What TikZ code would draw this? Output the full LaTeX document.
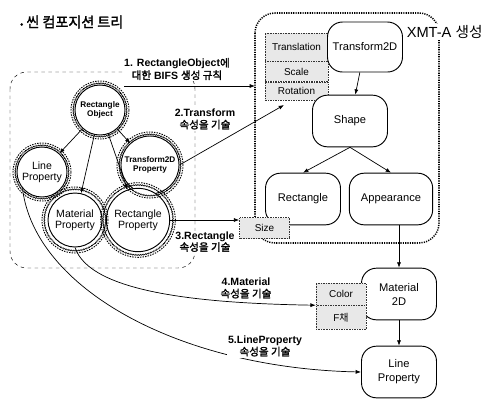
\documentclass[tikz,border=0pt]{standalone}
\usepackage{fontspec}
\setmainfont{Liberation Sans}
\newfontfamily\kr[AutoFakeBold=2]{Noto Sans CJK KR}
\usetikzlibrary{arrows.meta, positioning, calc, decorations.pathmorphing}
\tikzset{
    prop/.style={
        circle, draw, thick, fill=white, inner sep=0pt,
        align=center, font=\fontsize{9}{9.5}\selectfont
    },
    ring/.style={draw, line width=0.8pt, dash pattern=on 1.2pt off 1pt},
    wring/.style={draw, thin, decorate,
        decoration={zigzag, amplitude=0.5pt, segment length=1.5pt}},
    rbox/.style={
        rectangle, rounded corners=4.5mm,
        draw, thick, fill=white,
        minimum width=22.5mm, minimum height=15.5mm,
        font=\fontsize{9.5}{12}\selectfont, align=center
    },
    field/.style={
        rectangle, draw=black!80, densely dotted, fill=gray!18,
        minimum width=19mm, inner sep=0pt,
        font=\fontsize{8.5}{9}\selectfont
    },
    note/.style={fill=white, inner sep=1pt, align=center,
        font=\fontsize{9}{10.5}\selectfont\bfseries},
    arrow/.style={-{Latex[length=1.6mm, width=1.2mm]}, semithick},
    treepanel/.style={draw, dashed, rounded corners=5mm},
    xmtpanel/.style={draw, line width=1.3pt, dash pattern=on 1pt off 1pt, rounded corners=6mm}
}

\begin{document}
\begin{tikzpicture}[x=0.3mm, y=-0.3mm]
    \useasboundingbox (0,0) rectangle (491,401);

    % groups
    \draw[treepanel] (10,72) rectangle (195,268);
    \draw[xmtpanel] (255,13) rectangle (439,243);

    \node[anchor=west, font=\kr\bfseries\fontsize{12}{14}\selectfont] (title) at (16,22)
        {{\fontsize{8}{8}\selectfont •} 씬 컴포지션 트리};
    \node[anchor=west, fill=white, inner sep=1pt, font=\fontsize{12.5}{14}\selectfont] (xmt) at (398,32)
        {{\fontsize{8}{8}\selectfont •} XMT-A {\kr 생성}};

    % XMT-A side
    \node[field, minimum height=8.4mm] (tr) at (296.5,47) {Translation};
    \node[field, minimum height=6mm, below=0pt of tr] (sc) {Scale};
    \node[field, minimum height=5.4mm, below=0pt of sc] (rot) {Rotation};

    \node[rbox, minimum height=15mm] (t2d) at (365,47) {Transform2D};
    \node[rbox] (shape) at (350,121) {Shape};
    \node[rbox] (rect) at (303,199) {Rectangle};
    \node[rbox, minimum width=25mm] (app) at (391,199) {Appearance};
    \node[rbox] (mat2d) at (399,294) {Material\\2D};
    \node[rbox] (linebox) at (399,372) {Line\\Property};

    \node[field, minimum width=15mm, minimum height=6.3mm] (size) at (264.5,228) {Size};
    \node[field, minimum width=15mm, minimum height=6.6mm] (color) at (341,294) {Color};
    \node[field, minimum width=15mm, minimum height=7.2mm, below=0pt of color] (fillf) {F{\kr 채}};

    \draw[arrow] (t2d) -- (shape);
    \draw[arrow] (shape.south) -- (rect.north);
    \draw[arrow] (shape.south) -- (app.north);
    \draw[arrow] (app.south -| mat2d.north) -- (mat2d.north);
    \draw[arrow] (mat2d) -- (linebox);

    % scene composition tree
    \node[prop, minimum size=15mm, font=\fontsize{7}{7.5}\selectfont\bfseries] (robj) at (100,110) {Rectangle\\Object};
    \node[prop, minimum size=15mm] (linep) at (42,172) {Line\\Property};
    \node[prop, minimum size=17.4mm, font=\fontsize{7}{7.5}\selectfont\bfseries] (t2dp) at (150,165) {Transform2D\\Property};
    \node[prop, minimum size=16.2mm] (matp) at (75,220) {Material\\Property};
    \node[prop, minimum size=19mm] (recp) at (138,220) {Rectangle\\Property};

    \foreach \n/\r in {robj/8.7mm, linep/8.7mm, t2dp/9.9mm, matp/9.9mm, recp/11.2mm}{
        \draw[ring] (\n.center) circle (\r);
        \draw[wring] (\n.center) circle (\r-0.7mm);
    }

    \draw[arrow] (robj) -- (linep);
    \draw[arrow] (robj) -- (matp);
    \draw[arrow] (robj) -- (recp);
    \draw[arrow] (robj) -- (t2dp);

    % mapping rules
    \coordinate (bifs) at (124,86);
    \coordinate (xmtw) at (255,86);
    \coordinate (rottip) at (284,105);
    \draw[arrow] (bifs) -- (xmtw);
    \draw[arrow] (t2dp.east) -- (rottip);
    \draw[arrow] (recp.east) -- (recp.east -| size.west);
    \draw[arrow] (matp.south) .. controls +(15,45) and +(-116,-2) .. (fillf.north west);
    \draw[arrow] (linep.220) .. controls +(12,100) and +(-182,-4) .. (linebox.west);

    \node[note] (lab1) at (177,69) {1. RectangleObject{\kr 에}\\{\kr 대한} BIFS {\kr 생성 규칙}};
    \node[note] (lab2) at (205,119) {2.Transform\\{\kr 속성을 기술}};
    \node[note, font=\fontsize{9}{9.5}\selectfont\bfseries] (lab3) at (205,242) {3.Rectangle\\{\kr 속성을 기술}};
    \node[note] (lab4) at (246,288) {4.Material\\{\kr 속성을 기술}};
    \node[note] (lab5) at (265,346) {5.LineProperty\\{\kr 속성을 기술}};
\end{tikzpicture}
\end{document}
